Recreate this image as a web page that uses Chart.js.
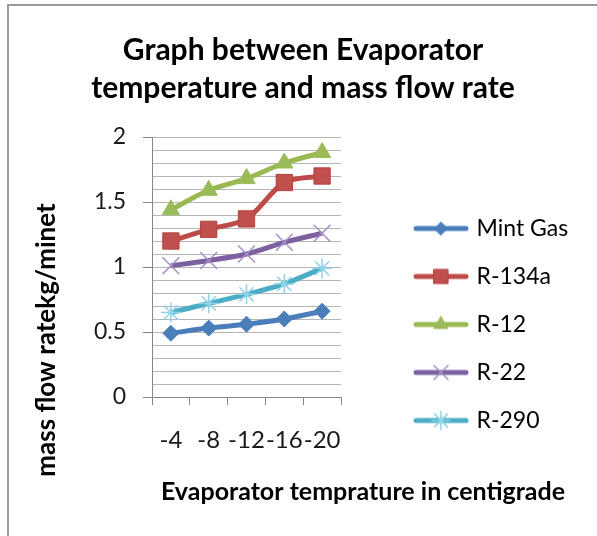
<!DOCTYPE html>
<html>
<head>
<meta charset="utf-8">
<script src="https://cdn.jsdelivr.net/npm/chart.js@4.4.1/dist/chart.umd.min.js"></script>
<style>
body { margin: 0; background: #fff; }
#frame { position: absolute; left: 7px; top: 4px; border-left: 2px solid #9a9a9a; border-top: 2px solid #9a9a9a; }
canvas { display: block; }
</style>
</head>
<body>
<div id="frame"><canvas id="chart" width="588" height="530"></canvas></div>
<script>
const temps = ['-4', '-8', '-12', '-16', '-20'];
const mintGas = [0.49, 0.53, 0.56, 0.60, 0.66];
const r134a = [1.20, 1.29, 1.37, 1.65, 1.70];
const r12 = [1.44, 1.59, 1.68, 1.80, 1.88];
const r22 = [1.01, 1.05, 1.10, 1.19, 1.26];
const r290 = [0.65, 0.72, 0.79, 0.87, 0.99];
const yMajorStep = 0.5;

const FONT = 'Lato';
const isMajor = v => Math.abs(v / yMajorStep - Math.round(v / yMajorStep)) < 1e-6;

const series = [
    { label: 'Mint Gas', data: mintGas, line: '#4a7ebb', fill: '#4a7ebb', edge: '#4a7ebb', style: 'rectRot', r: 8, lr: 6.5, bw: 1 },
    { label: 'R-134a', data: r134a, line: '#be4b48', fill: '#c0504d', edge: '#b5413e', style: 'rect', r: 11.5, lr: 10, bw: 1 },
    { label: 'R-12', data: r12, line: '#98b954', fill: '#9bbb59', edge: '#9bbb59', style: 'triangle', r: 10, lr: 8, bw: 1 },
    { label: 'R-22', data: r22, line: '#7d60a0', fill: 'rgba(0,0,0,0)', edge: '#a58fca', style: 'crossRot', r: 12, lr: 10, bw: 1.5 },
    { label: 'R-290', data: r290, line: '#4bacc6', fill: 'rgba(0,0,0,0)', edge: '#8fd3e6', style: 'star', r: 10, lr: 9, bw: 1.5 },
];

// legend icon: line with the marker in the middle
function legendIcon(s) {
    const c = document.createElement('canvas');
    c.width = 56;
    c.height = 26;
    const g = c.getContext('2d');
    g.strokeStyle = s.line;
    g.lineWidth = 5;
    g.lineCap = 'round';
    g.beginPath();
    g.moveTo(3, 13);
    g.lineTo(53, 13);
    g.stroke();
    g.fillStyle = s.fill;
    g.strokeStyle = s.edge;
    g.lineWidth = s.bw;
    Chart.helpers.drawPoint(g, { pointStyle: s.style, radius: s.lr, rotation: 0, borderWidth: s.bw }, 28, 13);
    return c;
}

const axisTitles = {
    id: 'axisTitles',
    afterDraw(chart) {
        const { ctx, chartArea } = chart;
        ctx.save();
        ctx.fillStyle = '#000';
        ctx.textAlign = 'center';
        ctx.textBaseline = 'middle';
        ctx.font = `bold 25px ${FONT}`;
        ctx.fillText('Evaporator temprature in centigrade', chartArea.left + 211, chart.height - 44);
        ctx.font = `bold 26px ${FONT}`;
        ctx.translate(38, chartArea.bottom - 57);
        ctx.rotate(-Math.PI / 2);
        ctx.fillText('mass flow ratekg/minet', 0, 0);
        ctx.restore();
    }
};

// make the legend box span to the right edge so items sit where they should
const legendWidth = {
    id: 'legendWidth',
    beforeLayout(chart) {
        const lg = chart.legend;
        if (lg && !lg._wide) {
            const fit = lg.fit.bind(lg);
            lg.fit = function () { fit(); this.width = 205; };
            lg._wide = true;
        }
    }
};

new Chart(document.getElementById('chart'), {
    type: 'line',
    data: {
        labels: temps,
        datasets: series.map(s => ({
            label: s.label,
            data: s.data,
            borderColor: s.line,
            borderWidth: 5,
            tension: 0.3,
            pointStyle: s.style,
            pointRadius: s.r,
            pointBackgroundColor: s.fill,
            pointBorderColor: s.edge,
            pointBorderWidth: s.bw,
            fill: false,
        })),
    },
    options: {
        responsive: false,
        animation: false,
        layout: { padding: { left: 0, right: 0, top: 0, bottom: 79 } },
        plugins: {
            title: {
                display: true,
                text: ['Graph between Evaporator', 'temperature and mass flow rate'],
                color: '#000',
                font: { family: FONT, size: 30, weight: 'bold', lineHeight: 38 / 30 },
                padding: { top: 25, bottom: 30 },
            },
            legend: {
                position: 'right',
                align: 'end',
                labels: {
                    usePointStyle: true,
                    pointStyleWidth: 48,
                    color: '#1a1a1a',
                    font: { family: FONT, size: 23 },
                    padding: 25,
                    generateLabels: chart => series.map((s, i) => ({
                        text: s.label,
                        pointStyle: legendIcon(s),
                        fillStyle: s.fill,
                        strokeStyle: s.line,
                        lineWidth: 0,
                        datasetIndex: i,
                        hidden: false,
                    })),
                },
            },
            tooltip: { enabled: false },
        },
        scales: {
            x: {
                offset: true,
                grid: { offset: true, drawOnChartArea: false, tickLength: 8, color: '#868686' },
                border: { color: '#868686' },
                ticks: { color: '#1a1a1a', font: { family: FONT, size: 24 }, padding: 21, maxRotation: 0, autoSkip: false },
                afterFit: s => { s.height = 60; },
            },
            y: {
                min: 0,
                max: 2,
                ticks: {
                    stepSize: 0.1,
                    autoSkip: false,
                    color: '#1a1a1a',
                    font: { family: FONT, size: 23 },
                    padding: 17,
                    callback: v => isMajor(v) ? String(Math.round(v * 10) / 10) : '',
                },
                grid: {
                    color: '#b5b5b5',
                    tickLength: 9,
                    tickColor: c => isMajor(c.tick.value) ? '#868686' : 'rgba(0,0,0,0)',
                },
                border: { color: '#868686' },
                afterFit: s => { s.width = 143; },
            },
            gap: {
                position: 'right',
                grid: { display: false },
                ticks: { display: false },
                border: { display: false },
                afterFit: s => { s.width = 51; },
            },
        },
    },
    plugins: [axisTitles, legendWidth],
});
</script>
</body>
</html>
